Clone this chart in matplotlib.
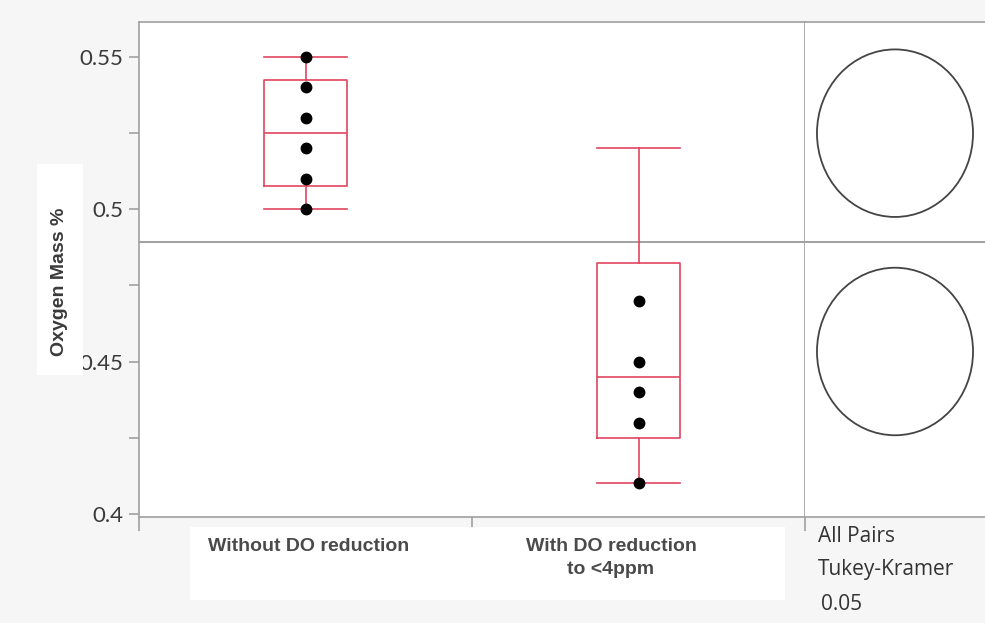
import numpy as np
import matplotlib
matplotlib.use("Agg")
import matplotlib.pyplot as plt
from matplotlib.patches import Rectangle, Ellipse

# data
groups = ["Without DO reduction", "With DO reduction\nto <4ppm"]
values_without = [0.50, 0.51, 0.52, 0.53, 0.54, 0.55]
values_with = [0.41, 0.43, 0.44, 0.45, 0.47, 0.52]
shown_without = [0.50, 0.51, 0.52, 0.53, 0.54, 0.55]
shown_with = [0.41, 0.43, 0.44, 0.45, 0.47]
circle_radius = [0.0275, 0.0275]
y_ticks = [0.4, 0.45, 0.5, 0.55]
y_tick_labels = ["0.4", "0.45", "0.5", "0.55"]
test_label = ["All Pairs", "Tukey-Kramer", "0.05"]

W, H = 985, 623
BOX_RED = "#e2455f"
FRAME = "#a0a0a0"

fig = plt.figure(figsize=(W / 100, H / 100), dpi=100, facecolor="#f6f6f6")


def fx(px):
    return px / W


def fy(py):
    return 1 - py / H


# white label boxes behind the axis titles
fig.patches.append(Rectangle((fx(37), fy(375)), fx(46), (375 - 164) / H,
                             transform=fig.transFigure, facecolor="white",
                             edgecolor="none", zorder=0))
fig.patches.append(Rectangle((fx(190), fy(600)), fx(595), (600 - 527) / H,
                             transform=fig.transFigure, facecolor="white",
                             edgecolor="none", zorder=0))

ax = fig.add_axes([fx(139), fy(517), fx(805 - 139), (517 - 22) / H])
ax2 = fig.add_axes([fx(805), fy(517), fx(985 - 805), (517 - 22) / H])

ylim = (0.3990, 0.5615)
all_vals = [values_without, values_with]
shown = [shown_without, shown_with]
grand_mean = np.mean(values_without + values_with)

for i, vals in enumerate(all_vals):
    pos = i + 1
    q1, med, q3 = np.percentile(vals, [25, 50, 75], method="weibull")
    stats = [dict(med=med, q1=q1, q3=q3, whislo=min(vals), whishi=max(vals))]
    ax.bxp(stats, positions=[pos], widths=0.25, showfliers=False,
           boxprops=dict(color=BOX_RED, linewidth=1.2),
           medianprops=dict(color=BOX_RED, linewidth=1.2),
           whiskerprops=dict(color=BOX_RED, linewidth=1.2),
           capprops=dict(color=BOX_RED, linewidth=1.2), capwidths=0.25)
    ax.plot([pos] * len(shown[i]), shown[i], "o", color="black",
            markersize=7.5, zorder=5)

ax.axhline(grand_mean, color=FRAME, linewidth=1.4, zorder=1)
ax.set_xlim(0.5, 2.5)
ax.set_ylim(*ylim)
ax.set_yticks(y_ticks)
ax.set_yticklabels(y_tick_labels, fontfamily="Lato", fontsize=16,
                   color="#3a3a3a")
ax.set_yticks([0.425, 0.475, 0.525], minor=True)
ax.set_xticks([0.5, 1.5, 2.5])
ax.set_xticklabels([])
ax.tick_params(axis="y", which="both", direction="out", length=7,
               color=FRAME, width=1.2, pad=4)
ax.tick_params(axis="x", direction="out", length=10, color=FRAME, width=1.2)
for sp in ax.spines.values():
    sp.set_color(FRAME)
    sp.set_linewidth(1.2)

# category labels and y title as figure text
label_x = [309, 611]
for gx, name in zip(label_x, groups):
    fig.text(fx(gx), fy(538), name, ha="center", va="top", fontsize=14,
             fontweight="bold", color="#4a4a4a", family="Liberation Sans",
             linespacing=1.5)
fig.text(fx(60), fy(282), "Oxygen Mass %", rotation=90, ha="center",
         va="center", fontsize=14, fontweight="bold", color="#3a3a3a",
         family="Liberation Sans")

# comparison circles
means = [np.mean(values_without), np.mean(values_with)]
for m, r in zip(means, circle_radius):
    ax2.add_patch(Ellipse((0.5, m), 0.867, 2 * r, fill=False,
                          edgecolor="#444444", linewidth=1.3))
ax2.axhline(grand_mean, color=FRAME, linewidth=1.4)
ax2.set_xlim(0, 1)
ax2.set_ylim(*ylim)
ax2.set_xticks([])
ax2.set_yticks([])
ax2.spines["right"].set_visible(False)
ax2.spines["left"].set_visible(False)
for sp in ["top", "bottom"]:
    ax2.spines[sp].set_color(FRAME)
    ax2.spines[sp].set_linewidth(1.2)

for k, t in enumerate(test_label):
    fig.text(fx(818 if k < 2 else 821), fy(536 + 34 * k), t, ha="left",
             va="center", fontsize=15, color="#333333", family="Open Sans")

fig.savefig("out.png", dpi=100, facecolor=fig.get_facecolor())
